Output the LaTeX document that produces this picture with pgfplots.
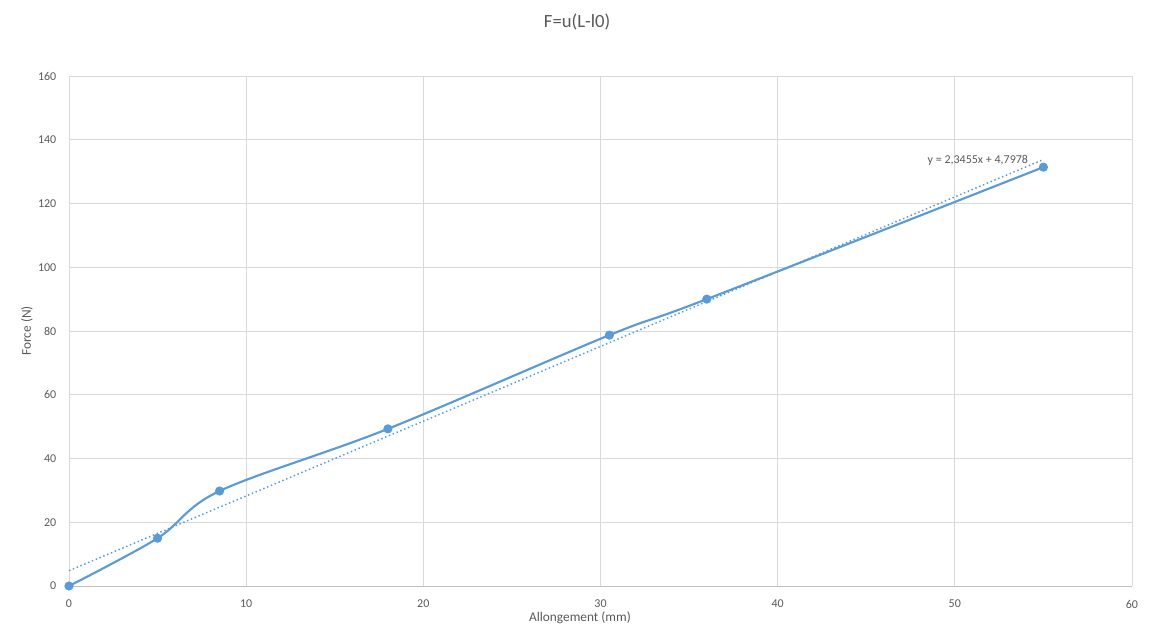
\documentclass[border=0pt]{standalone}
\usepackage{pgfplots}
\pgfplotsset{compat=1.18}
\usepackage{fontspec}
\setmainfont{Carlito}
\definecolor{serie}{HTML}{5B9BD5}
\definecolor{grille}{HTML}{D9D9D9}
\definecolor{axe}{HTML}{BFBFBF}
\definecolor{texte}{HTML}{595959}
\begin{document}
\begin{tikzpicture}
\path[use as bounding box] (-51.75pt,-39.75pt) rectangle (810.75pt,439.5pt);
\begin{axis}[
  scale only axis,
  width=797.25pt, height=382.5pt,
  at={(0,0)}, anchor=south west,
  xmin=0, xmax=60, ymin=0, ymax=160,
  xtick={0,10,...,60}, ytick={0,20,...,160},
  axis x line*=bottom, axis y line*=left,
  x axis line style={-, draw=axe},
  y axis line style={draw=none},
  major tick length=0pt,
  grid=major, major grid style={draw=grille, line width=0.6pt},
  /pgf/number format/assume math mode=true,
  ticklabel style={font=\fontsize{9}{11}\selectfont, text=texte},
  xticklabel style={yshift=-7pt},
  yticklabel style={xshift=-6pt},
  title={F=u(L-l0)},
  title style={at={(axis description cs:0.478,1.106)}, anchor=center, yshift=-6pt,
    font=\fontsize{14}{16}\selectfont, text=texte},
  xlabel={Allongement (mm)},
  xlabel style={at={(axis description cs:0.4807,-0.062)}, anchor=center,
    font=\fontsize{10}{12}\selectfont, text=texte},
  ylabel={Force (N)},
  ylabel style={at={(axis description cs:-0.0395,0.5)}, anchor=center, rotate=0,
    font=\fontsize{10}{12}\selectfont, text=texte},
  clip=false,
]
% mesures
\addplot[serie, line width=1.6pt, smooth, tension=0.55,
  mark=*, mark size=2.6pt, mark options={fill=serie, draw=serie}]
  coordinates {
  (0,0)
  (5,15)
  (8.5,29.8)
  (18,49.3)
  (30.5,78.7)
  (36,90)
  (55,131.4)
  };
% courbe de tendance lineaire
\addplot[serie, line width=1.1pt, dotted] coordinates {
  (0,4.7978)
  (55,133.8003)
  };
\node[font=\fontsize{9}{11}\selectfont, text=texte] at (axis cs:51.3,133.6) {y = 2,3455x + 4,7978};
\end{axis}
\end{tikzpicture}
\end{document}
